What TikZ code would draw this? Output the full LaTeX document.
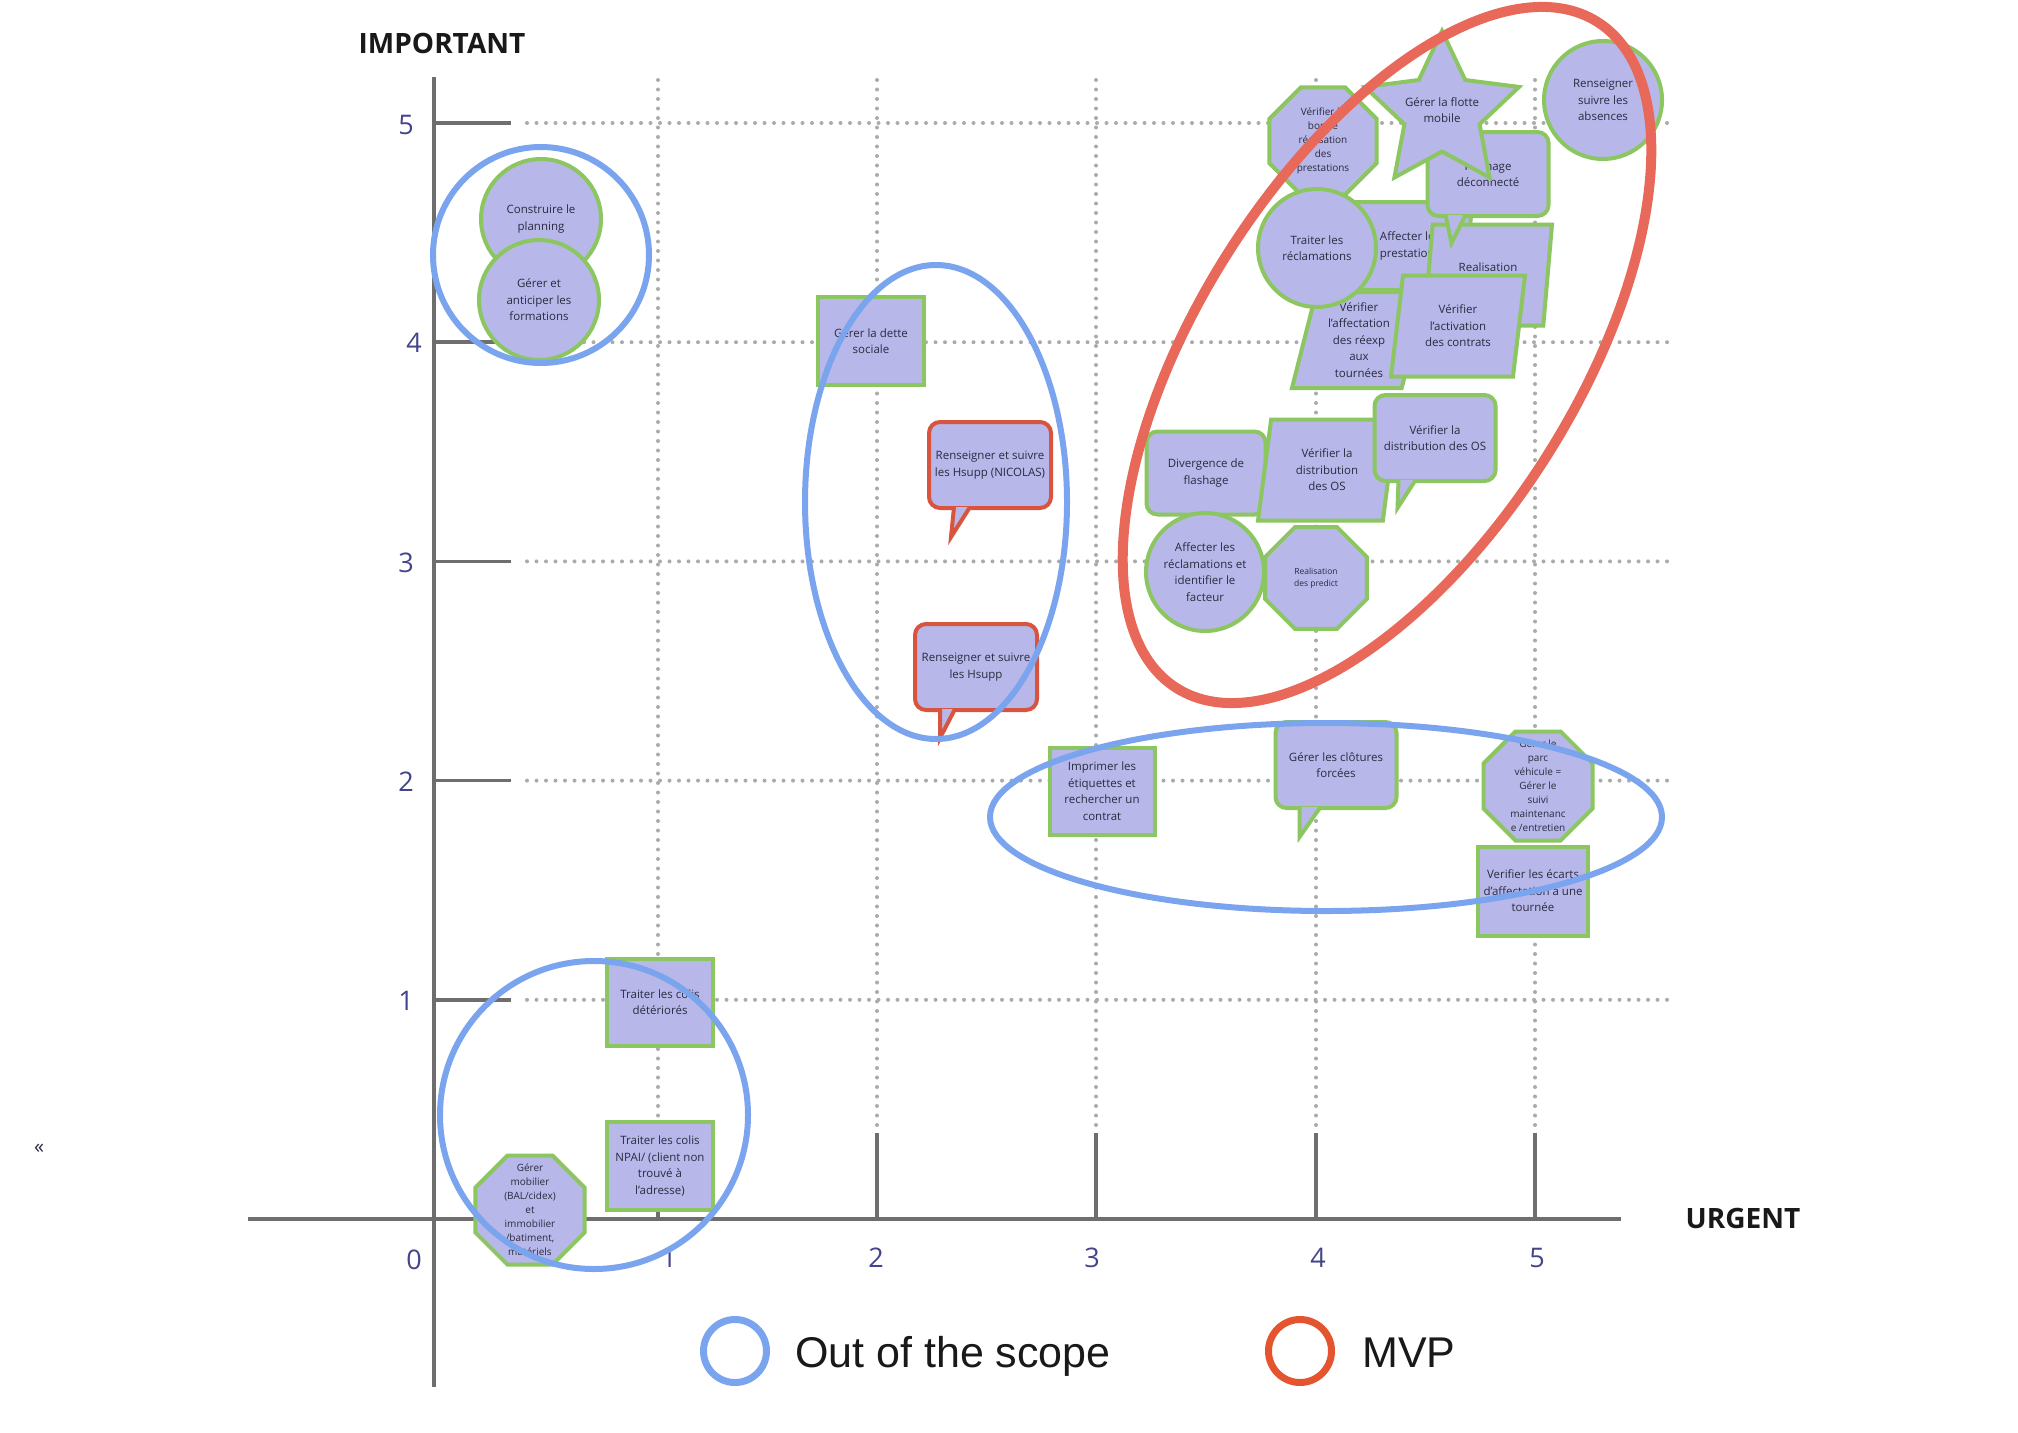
\documentclass[tikz,border=0pt]{standalone}
\usepackage{fontspec}
\setmainfont{Open Sans}
\newfontfamily\legfamily{Liberation Sans}
\usetikzlibrary{shapes.geometric,calc}
\definecolor{lav}{HTML}{B7B8E9}
\definecolor{grn}{HTML}{8CC660}
\definecolor{redb}{HTML}{D9543E}
\definecolor{blu}{HTML}{7AA5EE}
\definecolor{redell}{HTML}{E8685A}
\definecolor{legred}{HTML}{E4552F}
\definecolor{txtc}{HTML}{2A2A40}
\definecolor{numc}{HTML}{44448C}
\definecolor{axc}{HTML}{6E6E6E}
\definecolor{dotc}{HTML}{ABABAB}
\newcommand\fnode{\fontsize{11.5}{16.5}\selectfont}
\newcommand\fsmallt{\fontsize{10}{14}\selectfont}
\newcommand\ftinyt{\fontsize{8.5}{12}\selectfont}
\newcommand\fnum{\fontsize{27}{30}\selectfont}
\newcommand\fttl{\bfseries\fontsize{28}{32}\selectfont}
\newcommand\fleg{\legfamily\fontsize{43}{50}\selectfont}
\begin{document}
\begin{tikzpicture}[x=1pt,y=-1pt,
  shp/.style={fill=lav, draw=grn, line width=4pt, text=txtc, align=center, inner sep=0pt, font=\fnode},
  sqbox/.style={shp, rectangle},
  bubble/.style={shp, rectangle, rounded corners=11pt},
  rnd/.style={shp, circle},
  oct/.style={shp, regular polygon, regular polygon sides=8},
  para/.style={shp, trapezium, trapezium stretches body},
  lbl/.style={text=txtc, align=center, inner sep=0pt},
  bubtail/.style={fill=lav, draw=#1, line width=4pt, line join=miter},
  griddots/.style={draw=dotc, line width=4pt, line cap=round, dash pattern=on 0pt off 9.5pt},
  axline/.style={draw=axc, line width=4.5pt},
  tickln/.style={draw=axc, line width=3.5pt},
  numl/.style={text=numc, font=\fnum, inner sep=0pt, anchor=base},
  ttl/.style={text=black!90, font=\fttl, inner sep=0pt, anchor=base},
  outscope/.style={draw=blu, line width=6pt},
  mvpell/.style={draw=redell, line width=10pt},
  legt/.style={text=black!90, font=\fleg, inner sep=0pt, anchor=base west}
]
\useasboundingbox[fill=white] (0,0) rectangle (2018,1432);

% grid
\foreach \yy in {123,342.2,561.4,780.6,999.8} {
  \draw[griddots] (527,\yy) -- (1667,\yy);
  \draw[tickln] (434,\yy) -- (511,\yy);
}
\foreach \xx in {658,877,1096,1316,1535} {
  \draw[griddots] (\xx,80) -- (\xx,1128);
  \draw[tickln] (\xx,1133) -- (\xx,1219);
}
% axes
\draw[axline] (434,77) -- (434,1387);
\draw[axline] (248,1219) -- (1621,1219);

% axis labels
\node[numl] (y5) at (406,134) {5};
\node[numl] (y4) at (414,352) {4};
\node[numl] (y3) at (406,572) {3};
\node[numl] (y2) at (406,791) {2};
\node[numl] (y1) at (406,1010) {1};
\node[numl] (x0) at (414,1269) {0};
\node[numl] (x1) at (669,1267) {1};
\node[numl] (x2) at (876,1267) {2};
\node[numl] (x3) at (1092,1267) {3};
\node[numl] (x4) at (1318,1267) {4};
\node[numl] (x5) at (1537,1267) {5};
\node[ttl] (imp) at (442,53) {IMPORTANT};
\node[ttl] (urg) at (1743,1228) {URGENT};
\node[text=txtc, font=\fontsize{20}{22}\selectfont] (guill) at (39,1149) {«};

% top-left group
\node[rnd, minimum size=120pt] (A) at (541,219) {Construire le\\planning};
\node[rnd, minimum size=120pt] (B) at (539,300) {Gérer et\\anticiper les\\formations};

% Hsupp group
\node[sqbox, minimum width=106pt, minimum height=88pt] (C) at (871,341) {Gérer la dette\\sociale};
\node[bubble, draw=redb, minimum width=122pt, minimum height=86pt] (D) at (990,465) {Renseigner et suivre\\les Hsupp (NICOLAS)};
\draw[bubtail=redb] ($(D.south west)+(27,-3)$) -- ($(D.south west)+(24,27)$) -- ($(D.south west)+(43,-3)$);
\node[bubble, draw=redb, minimum width=122pt, minimum height=86pt] (E) at (976,667) {Renseigner et suivre\\les Hsupp};
\draw[bubtail=redb] ($(E.south west)+(27,-3)$) -- ($(E.south west)+(27,26)$) -- ($(E.south west)+(42,-3)$);

% MVP cluster (top)
\node[oct, minimum size=116pt] (F) at (1323,141) {};
\node[lbl, font=\fsmallt] (Ft) at (F.center) {Vérifier la\\bonne\\réalisation\\des\\prestations};
\node[para, trapezium left angle=72, trapezium right angle=108, minimum width=125pt, minimum height=88pt] (J) at (1410,246) {Affecter les\\prestations};
\node[para, trapezium left angle=71, trapezium right angle=109, minimum width=128pt, minimum height=101pt] (K) at (1488,275) {Realisation\\des choix};
\node[bubble, minimum width=121pt, minimum height=84pt] (H) at (1488,174) {Flashage\\déconnecté};
\draw[bubtail=grn] ($(H.south west)+(20,-3)$) -- ($(H.south west)+(26,25)$) -- ($(H.south west)+(40,-3)$);
\node[shp, star, star points=5, star point ratio=2.05, minimum size=162pt] (G) at (1442,112) {};
\node[lbl, font=\fnode] (Gt) at (1442,110) {Gérer la flotte\\mobile};
\node[rnd, minimum size=118pt] (I) at (1603,100) {Renseigner\\suivre les\\absences};
\node[para, trapezium left angle=72, trapezium right angle=108, minimum width=134pt, minimum height=96pt] (M) at (1359,340) {Vérifier\\l’affectation\\des réexp\\aux\\tournées};
\node[rnd, minimum size=118pt] (L) at (1317,248) {Traiter les\\réclamations};
\node[para, trapezium left angle=74, trapezium right angle=106, minimum width=134pt, minimum height=101pt] (N) at (1458,326) {Vérifier\\l’activation\\des contrats};

% MVP cluster (bottom)
\node[bubble, minimum width=119pt, minimum height=83pt] (O) at (1206,473) {Divergence de\\flashage};
\node[para, trapezium left angle=72.6, trapezium right angle=107.4, minimum width=138pt, minimum height=101pt] (P) at (1327,470) {Vérifier la\\distribution\\des OS};
\node[bubble, minimum width=121pt, minimum height=86pt] (Q) at (1435,438) {Vérifier la\\distribution des OS};
\draw[bubtail=grn] ($(Q.south west)+(26,-3)$) -- ($(Q.south west)+(25,25)$) -- ($(Q.south west)+(43,-3)$);
\node[oct, minimum size=110pt] (S) at (1316,578) {};
\node[lbl, font=\ftinyt] (St) at (S.center) {Realisation\\des predict};
\node[rnd, minimum size=118pt] (R) at (1205,572) {Affecter les\\réclamations et\\identifier le\\facteur};

% lower right group
\node[sqbox, minimum width=105pt, minimum height=87pt] (T) at (1102,791) {Imprimer les\\étiquettes et\\rechercher un\\contrat};
\node[bubble, minimum width=121pt, minimum height=86pt] (U) at (1336,765) {Gérer les clôtures\\forcées};
\draw[bubtail=grn] ($(U.south west)+(26,-3)$) -- ($(U.south west)+(26,27)$) -- ($(U.south west)+(47,-3)$);
\node[oct, minimum size=118pt] (V) at (1538,786) {};
\node[lbl, font=\fsmallt] (Vt) at (V.center) {Gérer le\\parc\\véhicule =\\Gérer le\\suivi\\maintenanc\\e /entretien};
\node[sqbox, minimum width=110pt, minimum height=89pt] (W) at (1533,891) {Verifier les écarts\\d'affectation à une\\tournée};

% bottom-left group
\node[sqbox, minimum width=106pt, minimum height=87pt] (X) at (660,1002) {Traiter les colis\\détériorés};
\node[sqbox, minimum width=106pt, minimum height=88pt] (Y) at (660,1166) {Traiter les colis\\NPAI/ (client non\\trouvé à\\l'adresse)};
\node[oct, minimum size=118pt] (Z) at (530,1210) {};
\node[lbl, font=\fsmallt] (Zt) at (Z.center) {Gérer\\mobilier\\(BAL/cidex)\\et\\immobilier\\/batiment,\\matériels};

% groupings
\draw[outscope] (541,255) circle[radius=108];
\draw[outscope] (936,502) ellipse[x radius=131, y radius=237];
\draw[outscope] (1326,817) ellipse[x radius=336, y radius=94];
\draw[outscope] (594,1115) circle[radius=154];
\draw[mvpell, rotate around={57.7:(1387,355)}] (1387,355) ellipse[x radius=394, y radius=189];

% legend
\node[draw=blu, line width=7pt, circle, minimum size=63pt, inner sep=0pt] (lg1) at (735,1351) {};
\node[legt] (lg1t) at (795,1367) {Out of the scope};
\node[draw=legred, line width=7pt, circle, minimum size=63pt, inner sep=0pt] (lg2) at (1300,1351) {};
\node[legt] (lg2t) at (1362,1367) {MVP};
\end{tikzpicture}
\end{document}
